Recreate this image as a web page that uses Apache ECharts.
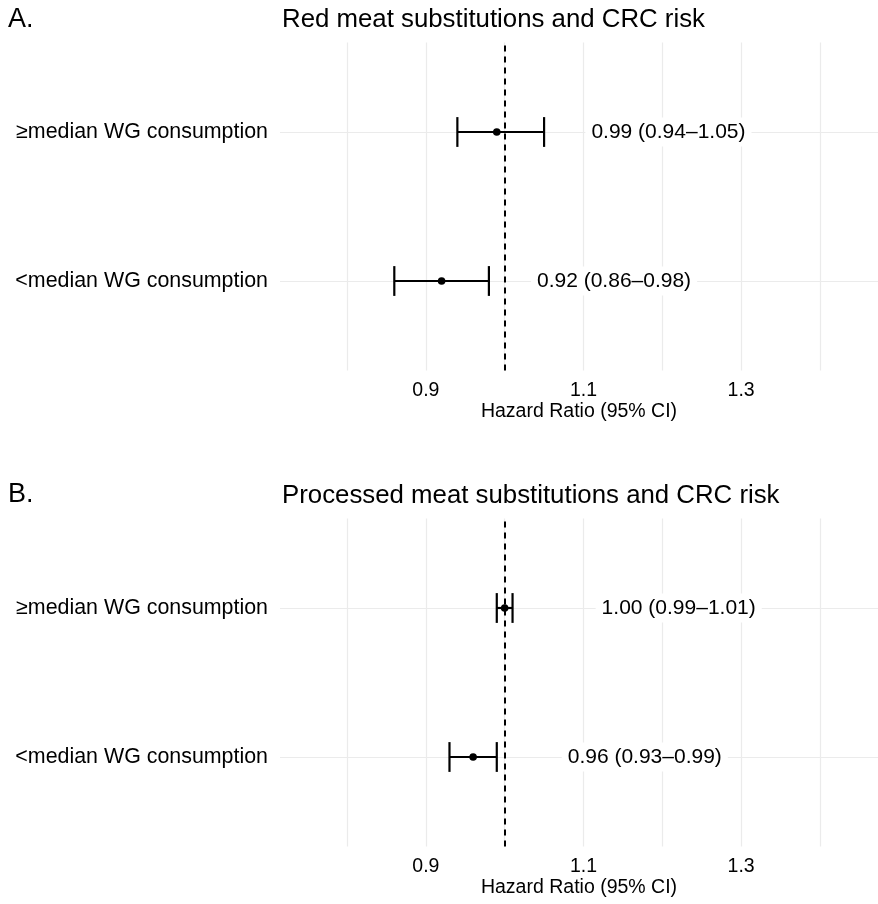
<!DOCTYPE html>
<html>
<head>
<meta charset="utf-8">
<title>WG substitutions and CRC risk</title>
<script src="https://cdn.jsdelivr.net/npm/echarts@6/dist/echarts.min.js"></script>
<style>
  html, body { margin: 0; padding: 0; background: #fff; }
  #chart { width: 878px; height: 904px; }
</style>
</head>
<body>
<div id="chart"></div>
<script>
// row labels, top row first
const groups = ["≥median WG consumption", "<median WG consumption"];

// A. red meat substitutions
const redHR = [0.99, 0.92];
const redLower = [0.94, 0.86];
const redUpper = [1.05, 0.98];

// B. processed meat substitutions
const procHR = [1.00, 0.96];
const procLower = [0.99, 0.93];
const procUpper = [1.01, 0.99];

// x axis: labelled ticks and grid lines
const tickLabels = [0.9, 1.1, 1.3];
const gridValues = [0.8, 0.9, 1.0, 1.1, 1.2, 1.3, 1.4];

// where the "HR (CI)" text starts, on the HR scale
const redTextAt = [1.11, 1.041];
const procTextAt = [1.123, 1.08];

const FONT = "'Liberation Sans', Arial, Helvetica, sans-serif";

// row index 0 is drawn on top
function rowY(i) {
  return groups.length - i;
}

function fmt(v) {
  return v.toFixed(2);
}

function barData(hr, lo, hi) {
  return hr.map((v, i) => [lo[i], hi[i], v, rowY(i)]);
}

function textData(hr, lo, hi, at) {
  return hr.map((v, i) => ({
    value: [at[i], rowY(i)],
    label: { formatter: fmt(v) + " (" + fmt(lo[i]) + "–" + fmt(hi[i]) + ")" }
  }));
}

function lineStyle() {
  return { stroke: "#000", lineWidth: 2.2, fill: null };
}

function renderBar(params, api) {
  const y = api.value(3);
  const lo = api.coord([api.value(0), y]);
  const hi = api.coord([api.value(1), y]);
  const pt = api.coord([api.value(2), y]);
  // cap height = 0.2 row units
  const capTop = api.coord([api.value(0), y + 0.1])[1];
  const capBot = api.coord([api.value(0), y - 0.1])[1];
  return {
    type: "group",
    children: [
      { type: "line", shape: { x1: lo[0], y1: lo[1], x2: hi[0], y2: hi[1] }, style: lineStyle() },
      { type: "line", shape: { x1: lo[0], y1: capTop, x2: lo[0], y2: capBot }, style: lineStyle() },
      { type: "line", shape: { x1: hi[0], y1: capTop, x2: hi[0], y2: capBot }, style: lineStyle() },
      { type: "circle", shape: { cx: pt[0], cy: pt[1], r: 3.8 }, style: { fill: "#000" } }
    ]
  };
}

function xAxisFor(idx) {
  return {
    gridIndex: idx,
    type: "value",
    min: 0.715,
    max: 1.4736,
    axisLine: { show: false },
    axisTick: { show: false },
    splitLine: { show: false },
    axisLabel: {
      customValues: tickLabels,
      formatter: v => v.toFixed(1),
      fontSize: 19.5,
      fontFamily: FONT,
      color: "#000",
      margin: 10
    },
    name: "Hazard Ratio (95% CI)",
    nameLocation: "middle",
    nameGap: 28,
    nameTextStyle: { fontSize: 19.5, fontFamily: FONT, color: "#000" }
  };
}

function yAxisFor(idx) {
  return {
    gridIndex: idx,
    type: "value",
    min: 0.4,
    max: 2.6,
    axisLine: { show: false },
    axisTick: { show: false },
    splitLine: { show: false },
    axisLabel: {
      customValues: groups.map((g, i) => rowY(i)),
      formatter: v => groups[groups.length - v],
      fontSize: 21.4,
      fontFamily: FONT,
      color: "#000",
      margin: 12
    }
  };
}

function panelSeries(idx, hr, lo, hi, at) {
  return [
    {
      type: "line",
      xAxisIndex: idx,
      yAxisIndex: idx,
      data: [],
      z: 1,
      markLine: {
        z: 1,
        silent: true,
        symbol: "none",
        label: { show: false },
        lineStyle: { color: "#ebebeb", width: 1.2, type: "solid" },
        data: gridValues.map(v => ({ xAxis: v })).concat(groups.map((g, i) => ({ yAxis: rowY(i) })))
      }
    },
    {
      type: "line",
      xAxisIndex: idx,
      yAxisIndex: idx,
      data: [],
      z: 2,
      markLine: {
        z: 2,
        silent: true,
        symbol: "none",
        label: { show: false },
        lineStyle: { color: "#000", width: 2, type: [6, 5] },
        data: [{ xAxis: 1 }]
      }
    },
    {
      type: "custom",
      xAxisIndex: idx,
      yAxisIndex: idx,
      z: 3,
      renderItem: renderBar,
      data: barData(hr, lo, hi)
    },
    {
      type: "scatter",
      xAxisIndex: idx,
      yAxisIndex: idx,
      symbolSize: 0,
      z: 4,
      itemStyle: { opacity: 1 },
      label: {
        show: true,
        position: "right",
        distance: -6,
        fontSize: 21,
        fontFamily: FONT,
        color: "#000",
        backgroundColor: "#fff",
        padding: [4, 6],
        textBorderWidth: 0
      },
      data: textData(hr, lo, hi, at)
    }
  ];
}

const chart = echarts.init(document.getElementById("chart"), null, { renderer: "canvas" });

const titleStyle = { fontSize: 25.8, fontWeight: "normal", fontFamily: FONT, color: "#000" };
const tagStyle = { fontSize: 27, fontWeight: "normal", fontFamily: FONT, color: "#000" };

const option = {
  backgroundColor: "#fff",
  animation: false,
  title: [
    { text: "A.", left: 8, top: 6, padding: 0, textStyle: tagStyle },
    { text: "Red meat substitutions and CRC risk", left: 282, top: 7, padding: 0, textStyle: titleStyle },
    { text: "B.", left: 8, top: 481, padding: 0, textStyle: tagStyle },
    { text: "Processed meat substitutions and CRC risk", left: 282, top: 483, padding: 0, textStyle: titleStyle }
  ],
  grid: [
    { left: 280, right: 0, top: 42.6, height: 327.8 },
    { left: 280, right: 0, top: 518.6, height: 327.8 }
  ],
  xAxis: [xAxisFor(0), xAxisFor(1)],
  yAxis: [yAxisFor(0), yAxisFor(1)],
  series: panelSeries(0, redHR, redLower, redUpper, redTextAt)
    .concat(panelSeries(1, procHR, procLower, procUpper, procTextAt))
};

chart.setOption(option);
</script>
</body>
</html>
